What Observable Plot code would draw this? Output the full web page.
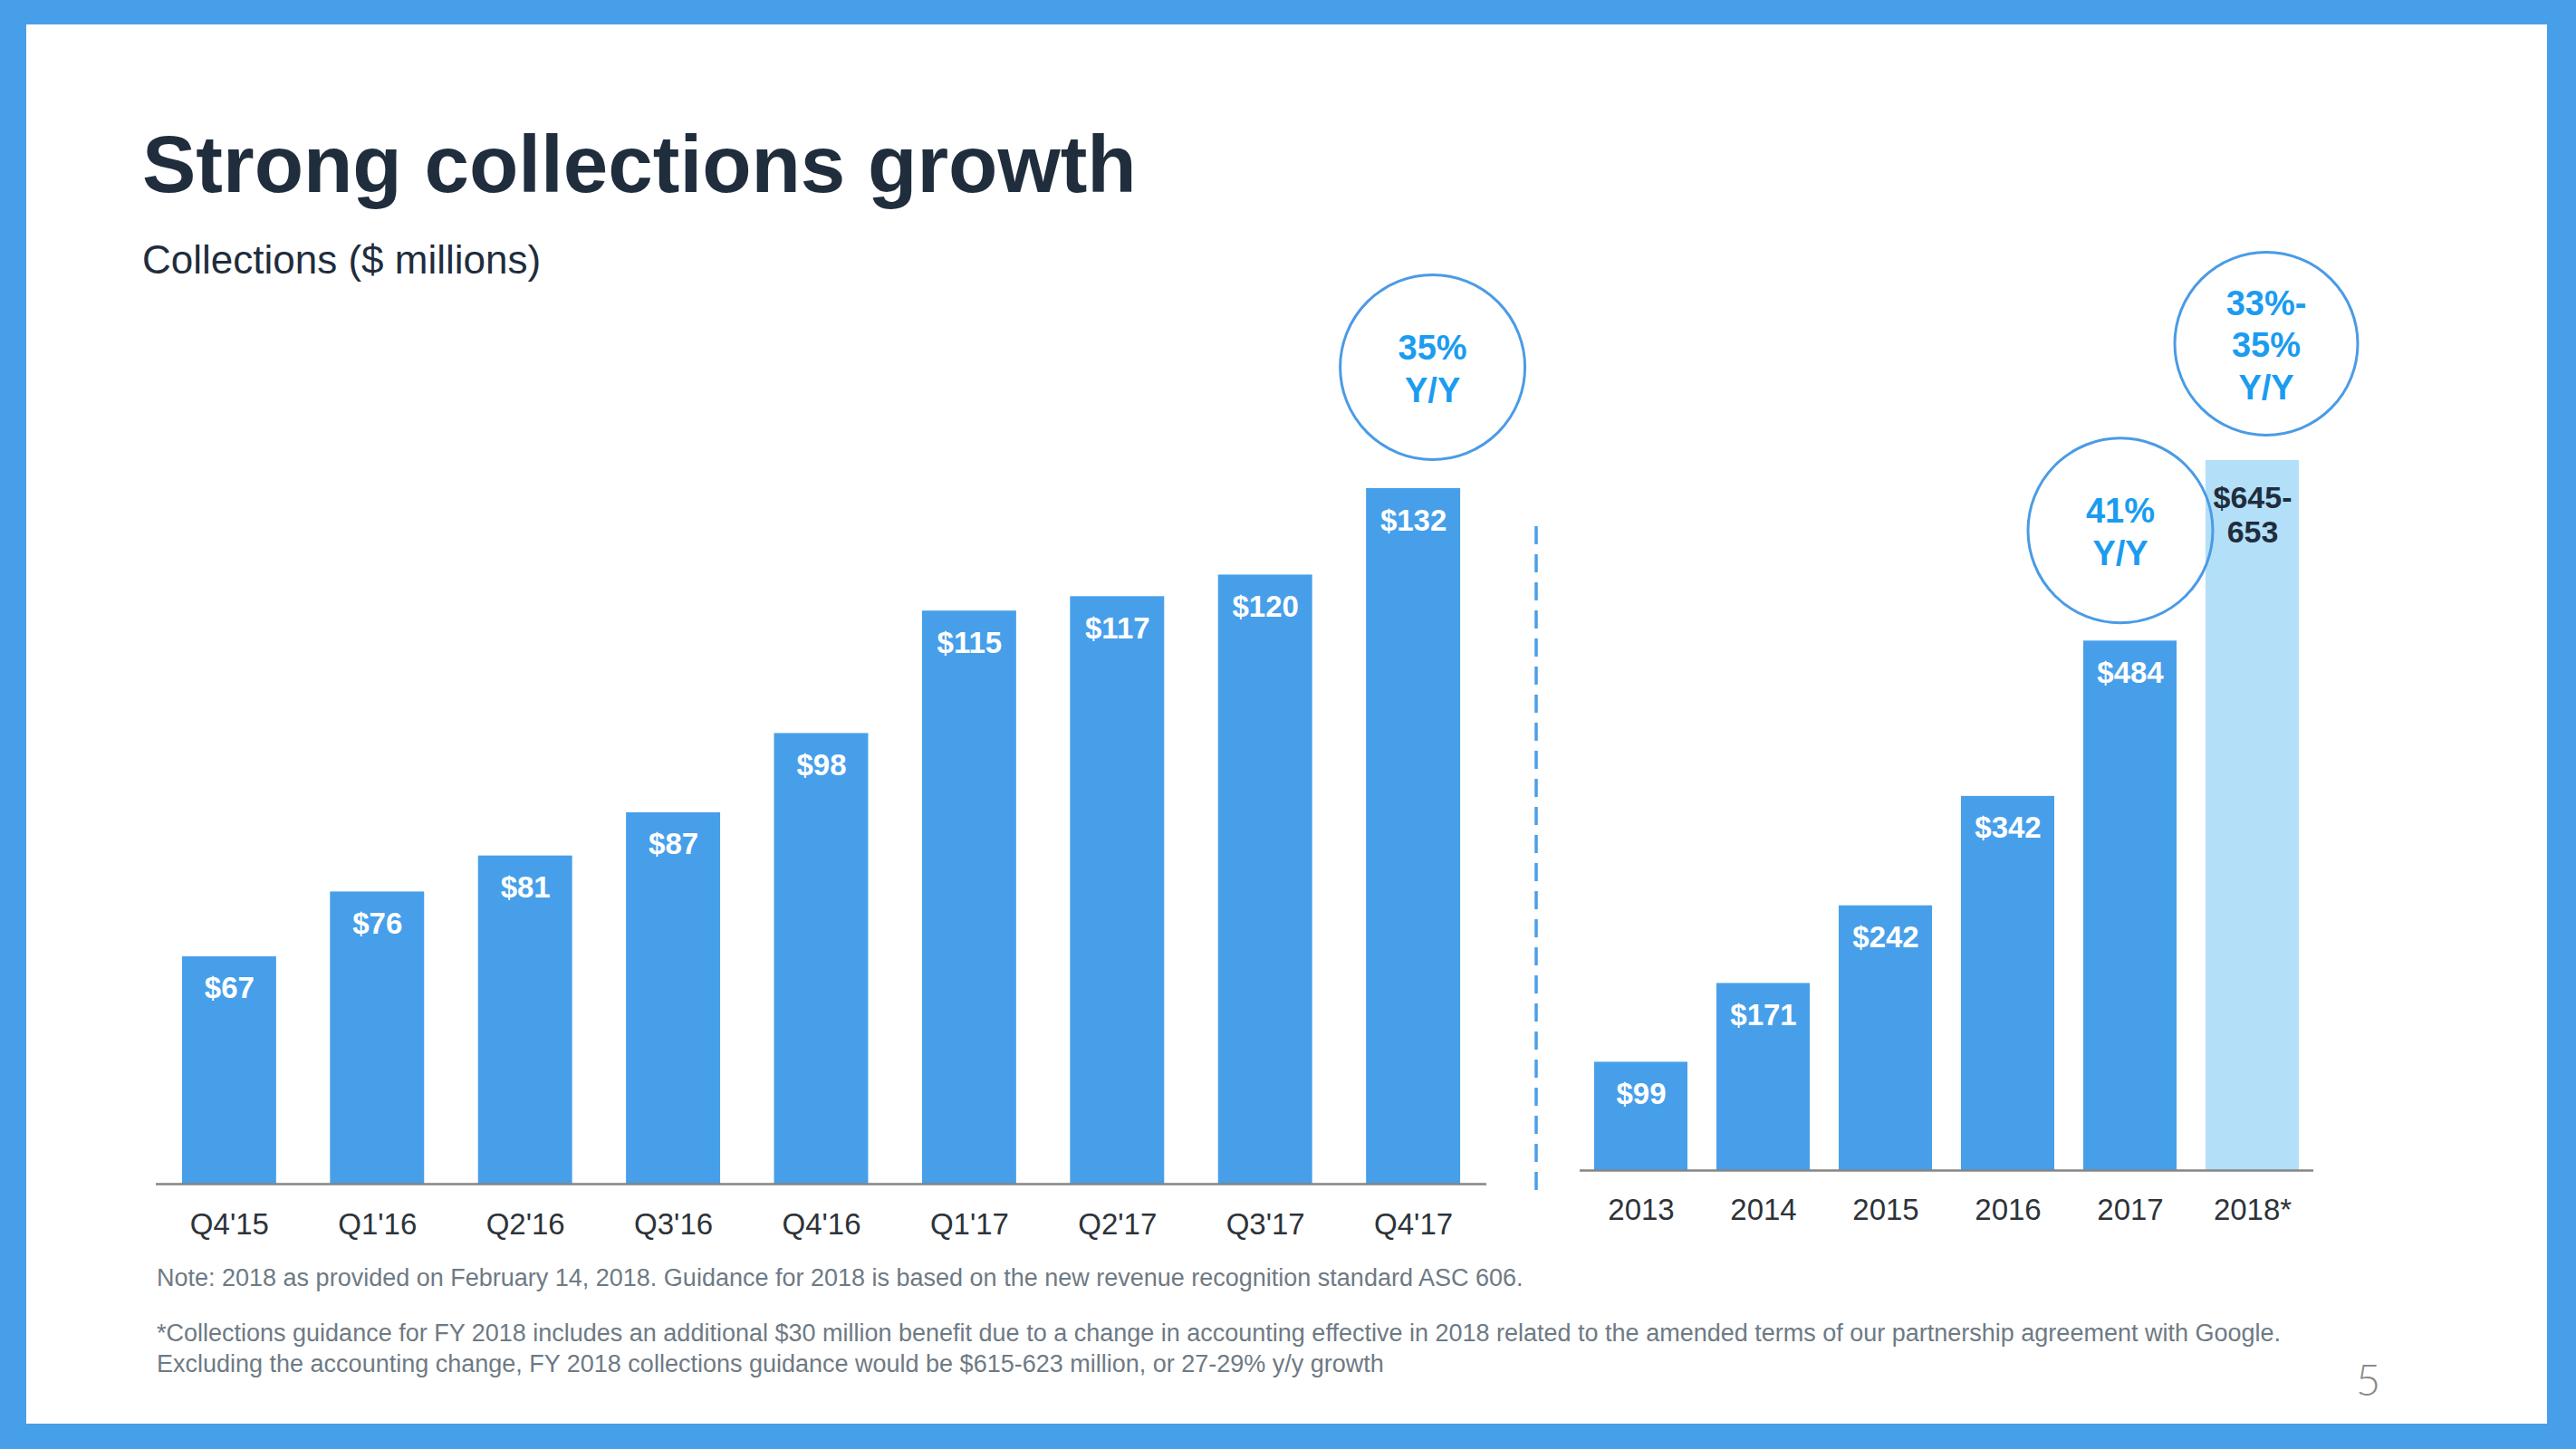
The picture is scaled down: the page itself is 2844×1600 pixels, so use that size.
<!DOCTYPE html>
<html>
<head>
<meta charset="utf-8">
<script src="https://cdn.jsdelivr.net/npm/d3@7"></script>
<script src="https://cdn.jsdelivr.net/npm/@observablehq/plot@0.6"></script>
<style>
  html, body { margin: 0; padding: 0; }
  body { width: 2844px; height: 1600px; background: #479fea; position: relative; overflow: hidden;
         font-family: "Liberation Sans", Arial, Helvetica, sans-serif; }
  #page { position: absolute; left: 29px; top: 27px; width: 2783px; height: 1545px; background: #ffffff; }
  .abs { position: absolute; white-space: nowrap; line-height: 1; }
  #title { left: 157px; top: 137px; font-size: 89px; font-weight: bold; color: #1f2d3d; }
  #subtitle { left: 157px; top: 265px; font-size: 44px; color: #1f2d3d; }
  #note { left: 173px; top: 1398px; font-size: 27px; color: #6e7a84; }
  #foot { left: 173px; top: 1455px; font-size: 27px; color: #6e7a84; line-height: 34px; }
  #pagenum { left: 2601px; top: 1500px; font-size: 47px; font-family: Lato, "Liberation Sans", sans-serif; font-weight: 300; color: #8a8a8a; }
  #left { position: absolute; left: 0; top: 0; }
  #right { position: absolute; left: 1660px; top: 0; }
</style>
</head>
<body>
<div id="page"></div>
<div class="abs" id="title">Strong collections growth</div>
<div class="abs" id="subtitle">Collections ($ millions)</div>
<div id="left"></div>
<div id="right"></div>
<div class="abs" id="note">Note: 2018 as provided on February 14, 2018. Guidance for 2018 is based on the new revenue recognition standard ASC 606.</div>
<div class="abs" id="foot">*Collections guidance for FY 2018 includes an additional $30 million benefit due to a change in accounting effective in 2018 related to the amended terms of our partnership agreement with Google.<br>Excluding the accounting change, FY 2018 collections guidance would be $615-623 million, or 27-29% y/y growth</div>
<div class="abs" id="pagenum">5</div>
<script>
// ---- data ----
const quarters = ["Q4'15", "Q1'16", "Q2'16", "Q3'16", "Q4'16", "Q1'17", "Q2'17", "Q3'17", "Q4'17"];
const quarterlyCollections = [67, 76, 81, 87, 98, 115, 117, 120, 132];
const years = ["2013", "2014", "2015", "2016", "2017", "2018*"];
const annualCollections = [99, 171, 242, 342, 484];
const guidance2018 = [645, 653];
const quarterlyGrowthLabel = ["35%", "Y/Y"];
const annualGrowthLabel = ["41%", "Y/Y"];
const guidanceGrowthLabel = ["33%-", "35%", "Y/Y"];

// ---- styles ----
const BLUE = "#479fea";
const LIGHT = "#b3dff8";
const CIRCLE = "#4a9be6";
const GROWTH = "#1b9cf0";
const DARK = "#1f2d3d";
const TICK = "#2d3339";
const FONT = "'Liberation Sans', Arial, Helvetica, sans-serif";
const svgStyle = { background: "transparent", maxWidth: "none", overflow: "visible", fontFamily: FONT };

// ---- quarterly chart ----
const qData = quarters.map((q, i) => ({ period: q, value: quarterlyCollections[i], label: "$" + quarterlyCollections[i] }));
const qBase = 35.44; // truncated baseline of the original slide
const qLast = qData.slice(-1);

const left = Plot.plot({
  width: 1660, height: 1420,
  marginLeft: 172, marginRight: 19, marginTop: 539, marginBottom: 113,
  x: { domain: quarters, paddingInner: 0.364, paddingOuter: 0.177, axis: null, round: false },
  y: { domain: [qBase, d3.max(quarterlyCollections)], axis: null },
  style: svgStyle,
  marks: [
    Plot.barY(qData, { x: "period", y1: qBase, y2: "value", fill: BLUE }),
    Plot.ruleY([qBase], { stroke: "#858585", strokeWidth: 2.5 }),
    Plot.text(qData, { x: "period", y: "value", text: "label", lineAnchor: "bottom", dy: 46,
      fill: "white", fontWeight: "bold", fontSize: 33 }),
    Plot.text(qData, { x: "period", text: "period", frameAnchor: "bottom", lineAnchor: "bottom", dy: 55,
      fill: TICK, fontSize: 33 }),
    Plot.dot(qLast, { x: "period", y: "value", r: 102, stroke: CIRCLE, strokeWidth: 3, fill: "none", dx: 21, dy: -134 }),
    Plot.text(qLast, { x: "period", y: "value", text: () => quarterlyGrowthLabel.join("\n"), dx: 21, dy: -134,
      lineAnchor: "middle", lineHeight: 1.22, fill: GROWTH, fontWeight: "bold", fontSize: 38 })
  ]
});
document.getElementById("left").appendChild(left);

// ---- annual chart ----
const aData = years.map((y, i) => i < annualCollections.length
  ? { period: y, value: annualCollections[i], label: "$" + annualCollections[i], guidance: false }
  : { period: y, value: d3.mean(guidance2018), label: "$" + guidance2018[0] + "-\n" + guidance2018[1], guidance: true });
const a2017 = aData.filter(d => d.period === "2017");
const a2018 = aData.filter(d => d.guidance);
const rMarginLeft = 84;

const right = Plot.plot({
  width: 1000, height: 1420,
  marginLeft: rMarginLeft, marginRight: 106, marginTop: 1292 - 700 * 1.208, marginBottom: 128,
  x: { domain: years, paddingInner: 0.237, paddingOuter: 0.1185, axis: null, round: false },
  y: { domain: [0, 700], axis: null },
  style: svgStyle,
  marks: [
    Plot.barY(aData, { filter: d => !d.guidance, x: "period", y: "value", fill: BLUE }),
    Plot.barY(aData, { filter: d => d.guidance, x: "period", y: "value", fill: LIGHT }),
    Plot.ruleY([0], { stroke: "#858585", strokeWidth: 2.5 }),
    Plot.text(aData, { filter: d => !d.guidance, x: "period", y: "value", text: "label", lineAnchor: "bottom", dy: 46,
      fill: "white", fontWeight: "bold", fontSize: 33 }),
    Plot.text(a2018, { x: "period", y: "value", text: "label", lineAnchor: "top", lineHeight: 1.12, dy: 25,
      fill: DARK, fontWeight: "bold", fontSize: 34 }),
    Plot.text(aData, { x: "period", text: "period", frameAnchor: "bottom", lineAnchor: "bottom", dy: 54,
      fill: TICK, fontSize: 33 }),
    Plot.dot(a2017, { x: "period", y: "value", r: 102, stroke: CIRCLE, strokeWidth: 3, fill: "none", dx: -11, dy: -122 }),
    Plot.text(a2017, { x: "period", y: "value", text: () => annualGrowthLabel.join("\n"), dx: -11, dy: -122,
      lineAnchor: "middle", lineHeight: 1.22, fill: GROWTH, fontWeight: "bold", fontSize: 38 }),
    Plot.dot(a2018, { x: "period", y: "value", r: 101, stroke: CIRCLE, strokeWidth: 3, fill: "none", dx: 15, dy: -129 }),
    Plot.text(a2018, { x: "period", y: "value", text: () => guidanceGrowthLabel.join("\n"), dx: 15, dy: -129,
      lineAnchor: "middle", lineHeight: 1.22, fill: GROWTH, fontWeight: "bold", fontSize: 38 })
  ]
});
// dashed divider between the two charts
d3.select(right).append("line")
  .attr("x1", rMarginLeft - 48).attr("x2", rMarginLeft - 48)
  .attr("y1", 581).attr("y2", 1317)
  .attr("stroke", "#4a9fe8").attr("stroke-width", 3.5).attr("stroke-dasharray", "20,11");
document.getElementById("right").appendChild(right);
</script>
</body>
</html>
